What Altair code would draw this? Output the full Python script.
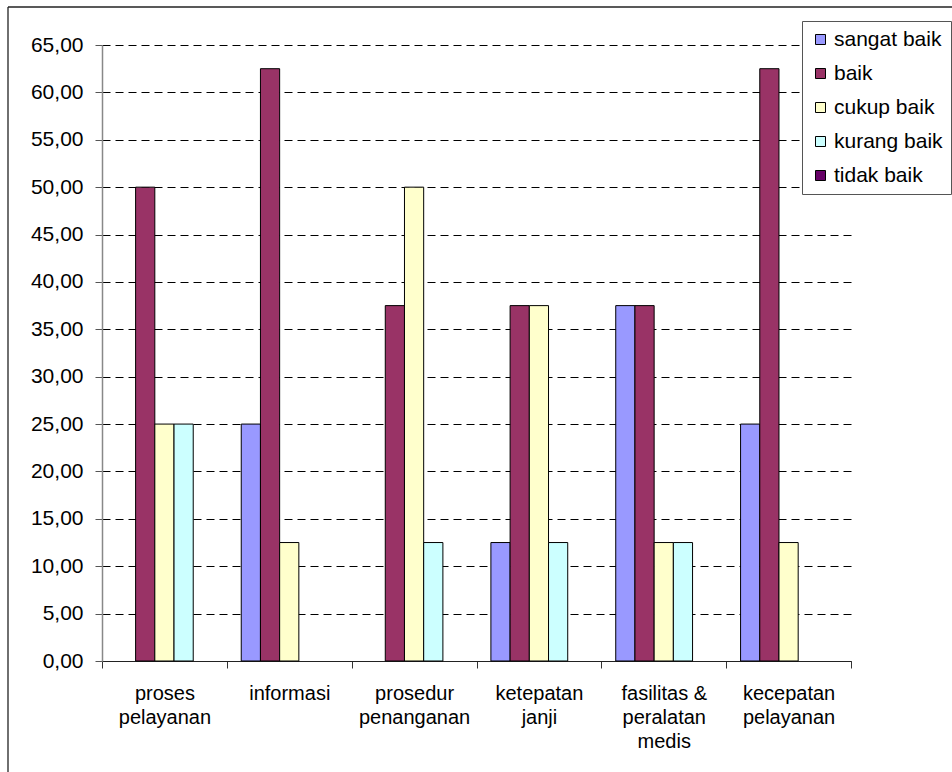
import altair as alt
import pandas as pd

# Survey categories and the rating scale
categories = [
    "proses pelayanan",
    "informasi",
    "prosedur penanganan",
    "ketepatan janji",
    "fasilitas & peralatan medis",
    "kecepatan pelayanan",
]
category_lines = [
    ["proses", "pelayanan"],
    ["informasi"],
    ["prosedur", "penanganan"],
    ["ketepatan", "janji"],
    ["fasilitas &", "peralatan", "medis"],
    ["kecepatan", "pelayanan"],
]
series = ["sangat baik", "baik", "cukup baik", "kurang baik", "tidak baik"]
colors = ["#9999FF", "#993366", "#FFFFCC", "#CCFFFF", "#660066"]

# Percentages per rating, in category order
sangat_baik = [0, 25, 0, 12.5, 37.5, 25]
baik = [50, 62.5, 37.5, 37.5, 37.5, 62.5]
cukup_baik = [25, 12.5, 50, 37.5, 12.5, 12.5]
kurang_baik = [25, 0, 12.5, 12.5, 12.5, 0]
tidak_baik = [0, 0, 0, 0, 0, 0]

y_ticks = list(range(0, 70, 5))

rows = []
for name, vals in zip(series, [sangat_baik, baik, cukup_baik, kurang_baik, tidak_baik]):
    for cat, v in zip(categories, vals):
        rows.append({"kategori": cat, "penilaian": name, "persen": v})
df = pd.DataFrame(rows)

# Multi-line category labels
label_expr = ""
for cat, lines in zip(categories, category_lines):
    arr = "[" + ",".join("'" + s + "'" for s in lines) + "]"
    label_expr += f"datum.label == '{cat}' ? {arr} : "
label_expr += "datum.label"

FONT = "Liberation Sans"

bars = (
    alt.Chart(df)
    .transform_filter("datum.persen > 0")
    .mark_bar(stroke="black", strokeWidth=1)
    .encode(
        x=alt.X(
            "kategori:N",
            sort=categories,
            title=None,
            scale=alt.Scale(paddingInner=0, paddingOuter=0),
            axis=alt.Axis(
                labelAngle=0,
                labelExpr=label_expr,
                labelFont=FONT,
                labelFontSize=20,
                labelColor="black",
                labelLineHeight=24,
                labelBaseline="top",
                labelPadding=15,
                tickBand="extent",
                tickSize=7,
                tickColor="#333333",
                domainColor="#222222",
                domainWidth=1.2,
                grid=False,
            ),
        ),
        xOffset=alt.XOffset(
            "penilaian:N",
            sort=series,
            scale=alt.Scale(domain=series, paddingInner=0, paddingOuter=0.75),
        ),
        y=alt.Y(
            "persen:Q",
            title=None,
            scale=alt.Scale(domain=[0, 65], nice=False),
            axis=alt.Axis(
                values=y_ticks,
                labelExpr="replace(format(datum.value, '.2f'), '.', ',')",
                labelFont=FONT,
                labelFontSize=21,
                labelColor="black",
                labelPadding=12,
                tickSize=7,
                tickColor="#555555",
                domainColor="#888888",
                domainWidth=1.5,
                grid=True,
                gridColor="black",
                gridDash=[8, 5],
                gridWidth=1,
            ),
        ),
        color=alt.Color(
            "penilaian:N",
            scale=alt.Scale(domain=series, range=colors),
            legend=alt.Legend(
                title=None,
                orient="none",
                legendX=700,
                legendY=-24,
                padding=8,
                strokeColor="#555555",
                fillColor="white",
                symbolType="square",
                symbolSize=100,
                symbolStrokeColor="black",
                symbolStrokeWidth=1,
                symbolOpacity=1,
                labelFont=FONT,
                labelFontSize=21,
                labelColor="black",
                labelOffset=3,
                labelExpr="datum.label + '      '",
                rowPadding=12,
            ),
        ),
    )
)

# Outer chart frame (left and top edges)
frame_df = pd.DataFrame({"k": [0]})
frame_left = alt.Chart(frame_df).mark_rule(color="#222222", strokeWidth=1.3).encode(
    x=alt.value(-94), y=alt.value(-38), y2=alt.value(727)
)
frame_top = alt.Chart(frame_df).mark_rule(color="#222222", strokeWidth=1.3).encode(
    x=alt.value(-94), x2=alt.value(850), y=alt.value(-38)
)

chart = (
    alt.layer(bars, frame_left, frame_top)
    .properties(
        width=749,
        height=616,
        padding={"left": 102, "top": 45, "right": 101, "bottom": 111},
        autosize=alt.AutoSizeParams(type="none"),
        background="white",
    )
    .configure_view(stroke=None)
)

chart.save("out.html", embed_options={"renderer": "svg", "actions": False})
